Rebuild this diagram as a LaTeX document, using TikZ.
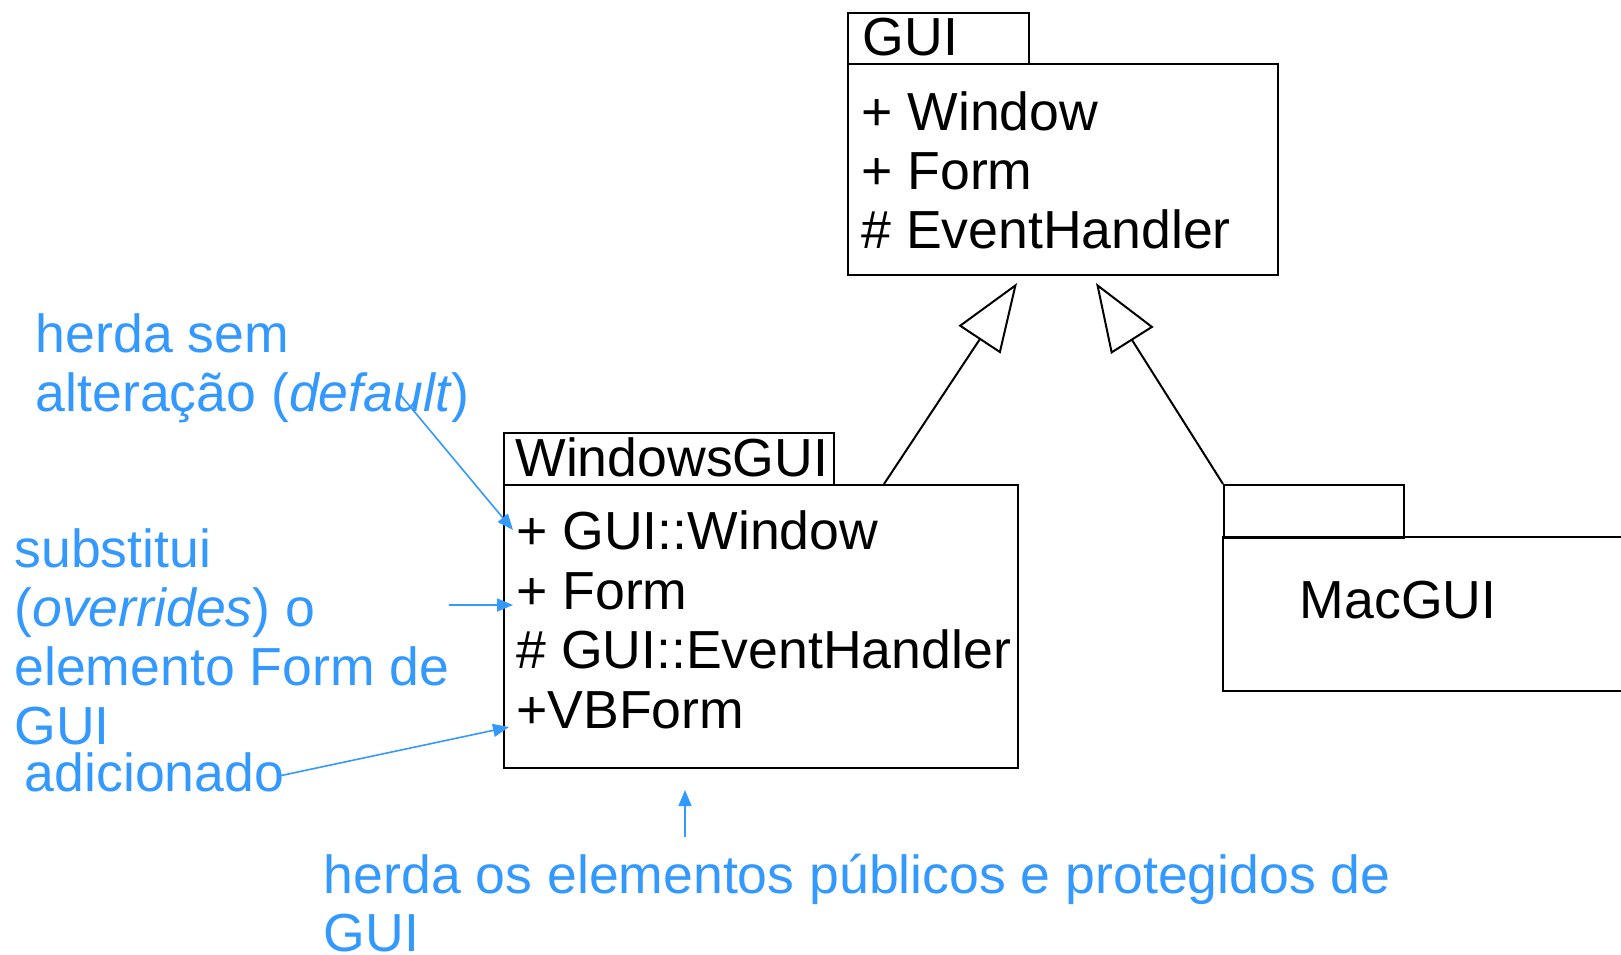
\documentclass[tikz,border=0pt]{standalone}
\usepackage{fontspec}
\setmainfont{Liberation Sans}
\usetikzlibrary{arrows.meta}
\definecolor{notecol}{RGB}{51,153,255}

\begin{document}
\begin{tikzpicture}[x=0.5pt, y=-0.5pt,
  box/.style={draw=black, line width=1.1pt, inner sep=0pt, anchor=north west},
  member/.style={inner sep=0pt, anchor=base west, font=\fontsize{26.8}{32}\selectfont},
  note/.style={inner sep=0pt, anchor=base west, text=notecol, font=\fontsize{26.8}{32}\selectfont},
  gen/.style={draw=black, line width=1pt, -{Triangle[open, length=34pt, width=25pt]}},
  hint/.style={draw=notecol, line width=0.8pt, -{Triangle[length=8pt, width=6.5pt]}},
]
\useasboundingbox (0,0) rectangle (1621,954);

% package GUI
\node[box, minimum width=90.5pt, minimum height=25.5pt] (guitab) at (847,12) {};
\node[box, minimum width=215pt, minimum height=105.5pt] (guibox) at (847,63) {};
\node[member] (guiname) at (862.5,55) {GUI};
\node[member] (gm1) at (861,130) {+ Window};
\node[member] (gm2) at (861,189) {+ Form};
\node[member] (gm3) at (861,248) {\# EventHandler};

% package WindowsGUI
\node[box, minimum width=165pt, minimum height=26pt] (wtab) at (503,432) {};
\node[box, minimum width=257pt, minimum height=141.5pt] (wbox) at (503,484) {};
\node[member] (wname) at (515,476) {WindowsGUI};
\node[member] (wm1) at (516,549) {+ GUI::Window};
\node[member] (wm2) at (516,609) {+ Form};
\node[member] (wm3) at (516,668) {\# GUI::EventHandler};
\node[member] (wm4) at (516,728) {+VBForm};

% package MacGUI (runs off the right edge)
\node[box, minimum width=90pt, minimum height=26.5pt] (mtab) at (1223,484) {};
\node[inner sep=0pt, anchor=north west, minimum width=199pt, minimum height=76.5pt] (mbox) at (1223,537) {};
\draw[line width=1.1pt] (mbox.north east) -- (mbox.north west) -- (mbox.south west) -- (mbox.south east);
\node[member] (mname) at (1299.5,618) {MacGUI};

% generalisation arrows
\coordinate (wtop) at (884,484);
\coordinate (gtip1) at (1017,283);
\coordinate (gtip2) at (1096,283);
\draw[gen] (wtop) -- (gtip1);
\draw[gen] (mtab.north west) -- (gtip2);

% notes
\node[note] (n1a) at (35.5,352) {herda sem};
\node[note] (n1b) at (35.5,411) {alteração (\textit{default})};
\node[note] (n2a) at (14,567) {substitui};
\node[note] (n2b) at (14,626) {(\textit{overrides}) o};
\node[note] (n2c) at (14,685) {elemento Form de};
\node[note] (n2d) at (14,744) {GUI};
\node[note] (n3) at (24.5,791) {adicionado};
\node[note] (n4a) at (323.5,893) {herda os elementos públicos e protegidos de};
\node[note] (n4b) at (323.5,951) {GUI};

% note pointers
\coordinate (p1s) at (398,392);  \coordinate (p1e) at (513,530);
\coordinate (p2s) at (449,605);  \coordinate (p2e) at (513,605);
\coordinate (p3s) at (279,776);  \coordinate (p3e) at (509,727);
\coordinate (p4s) at (685,837);  \coordinate (p4e) at (685,790);
\draw[hint] (p1s) -- (p1e);
\draw[hint] (p2s) -- (p2e);
\draw[hint] (p3s) -- (p3e);
\draw[hint] (p4s) -- (p4e);
\end{tikzpicture}
\end{document}
